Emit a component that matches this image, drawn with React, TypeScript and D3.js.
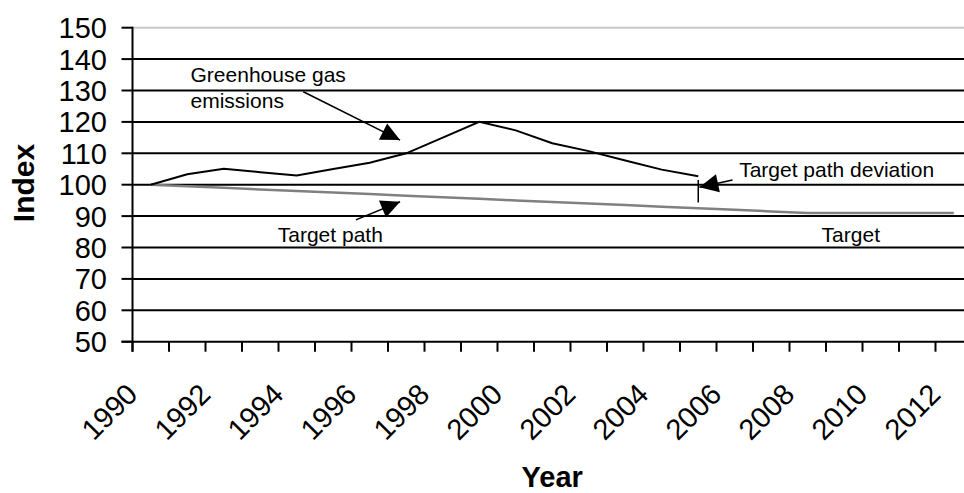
import { scaleBand, scaleLinear, line as d3line } from "d3";

const years = [
  1990, 1991, 1992, 1993, 1994, 1995, 1996, 1997, 1998, 1999, 2000, 2001,
  2002, 2003, 2004, 2005, 2006, 2007, 2008, 2009, 2010, 2011, 2012,
];

const emissionYears = [
  1990, 1991, 1992, 1993, 1994, 1995, 1996, 1997, 1998, 1999, 2000, 2001,
  2002, 2003, 2004, 2005,
];
const emissions = [
  100, 103.3, 105.1, 104, 102.9, 105, 107, 110, 115, 120, 117.3, 113.2,
  110.7, 107.7, 104.8, 102.7,
];

const targetPath = [
  100, 99.5, 99, 98.5, 98, 97.5, 97, 96.5, 96, 95.5, 95, 94.5, 94, 93.5, 93,
  92.5, 92, 91.5, 91, 91, 91, 91, 91,
];

const yTicks = [50, 60, 70, 80, 90, 100, 110, 120, 130, 140, 150];
const xLabels = [
  1990, 1992, 1994, 1996, 1998, 2000, 2002, 2004, 2006, 2008, 2010, 2012,
];

// annotations in data units: [year, value]
const arrows = [
  { from: [1994.18, 129.6], to: [1996.83, 114.2] },
  { from: [1995.62, 88.8], to: [1996.83, 94.6] },
  { from: [2005.94, 101.5], to: [2005.03, 99.2] },
];
const notes = [
  { text: "Greenhouse gas", at: [1991.09, 132.8] },
  { text: "emissions", at: [1991.09, 124.5] },
  { text: "Target path", at: [1993.48, 81.6] },
  { text: "Target path deviation", at: [2006.12, 102.4] },
  { text: "Target", at: [2008.38, 81.7] },
];
const deviation = { year: 2005, from: 101.5, to: 94.3 };

const W = 964;
const H = 493;
const left = 132.5;
const right = 972;
const top = 27.7;
const bottom = 341.7;
const font = "Arial, 'Liberation Sans', sans-serif";

export default function App() {
  const band = scaleBand<number>().domain(years).range([left, right]);
  const cx = (yr: number) => (band(yr) ?? 0) + band.bandwidth() / 2;
  const xLin = scaleLinear()
    .domain([years[0], years[years.length - 1]])
    .range([cx(years[0]), cx(years[years.length - 1])]);
  const y = scaleLinear().domain([50, 150]).range([bottom, top]);

  const emLine = d3line<number>()
    .x((_, i) => cx(emissionYears[i]))
    .y((d) => y(d));
  const tgLine = d3line<number>()
    .x((_, i) => cx(years[i]))
    .y((d) => y(d));

  const boundaries = [...years.map((yr) => band(yr) ?? 0), right];

  const head = (x1: number, y1: number, x2: number, y2: number) => {
    const dx = x2 - x1;
    const dy = y2 - y1;
    const len = Math.hypot(dx, dy);
    const ux = dx / len;
    const uy = dy / len;
    const bx = x2 - ux * 19;
    const by = y2 - uy * 19;
    const px = -uy * 9.2;
    const py = ux * 9.2;
    return `${x2},${y2} ${bx + px},${by + py} ${bx - px},${by - py}`;
  };

  return (
    <svg
      width={W}
      height={H}
      style={{ position: "absolute", left: 0, top: 0, background: "#fff" }}
      fontFamily={font}
    >
      {/* gridlines */}
      {yTicks.slice(1).map((t) => (
        <line
          key={t}
          x1={left}
          x2={right}
          y1={y(t)}
          y2={y(t)}
          stroke={t === 150 ? "#c8c8c8" : "#000"}
          strokeWidth={2}
        />
      ))}

      {/* y axis */}
      <line x1={left} x2={left} y1={top - 1} y2={bottom + 10} stroke="#000" strokeWidth={2} />
      {yTicks.map((t) => (
        <g key={t}>
          <line x1={left - 11} x2={left} y1={y(t)} y2={y(t)} stroke="#000" strokeWidth={2} />
          <text x={107} y={y(t)} dy="0.36em" textAnchor="end" fontSize={29} fill="#000">
            {t}
          </text>
        </g>
      ))}

      {/* x axis */}
      <line x1={left - 11} x2={right} y1={bottom} y2={bottom} stroke="#000" strokeWidth={2} />
      {boundaries.map((bx, i) => (
        <line key={i} x1={bx} x2={bx} y1={bottom} y2={bottom + 10} stroke="#000" strokeWidth={2} />
      ))}
      {xLabels.map((yr) => (
        <text
          key={yr}
          transform={`translate(${cx(yr) - 11.5},396) rotate(-45)`}
          textAnchor="end"
          fontSize={29}
          fill="#000"
        >
          {yr}
        </text>
      ))}

      {/* series */}
      <path d={tgLine(targetPath) ?? undefined} fill="none" stroke="#808080" strokeWidth={2.5} />
      <path d={emLine(emissions) ?? undefined} fill="none" stroke="#000" strokeWidth={2} />

      {/* annotations */}
      <line
        x1={cx(deviation.year)}
        x2={cx(deviation.year)}
        y1={y(deviation.from)}
        y2={y(deviation.to)}
        stroke="#000"
        strokeWidth={1.5}
      />
      {arrows.map((a, i) => {
        const x1 = xLin(a.from[0]);
        const y1 = y(a.from[1]);
        const x2 = xLin(a.to[0]);
        const y2 = y(a.to[1]);
        return (
          <g key={i}>
            <line x1={x1} y1={y1} x2={x2} y2={y2} stroke="#000" strokeWidth={1.6} />
            <polygon points={head(x1, y1, x2, y2)} fill="#000" />
          </g>
        );
      })}
      {notes.map((n) => (
        <text key={n.text} x={xLin(n.at[0])} y={y(n.at[1])} fontSize={21} fill="#000">
          {n.text}
        </text>
      ))}

      {/* axis titles */}
      <text
        transform="translate(33.5,183) rotate(-90)"
        textAnchor="middle"
        fontSize={30}
        fontWeight="bold"
        fill="#000"
      >
        Index
      </text>
      <text x={(left + right) / 2} y={487} textAnchor="middle" fontSize={29} fontWeight="bold" fill="#000">
        Year
      </text>
    </svg>
  );
}
